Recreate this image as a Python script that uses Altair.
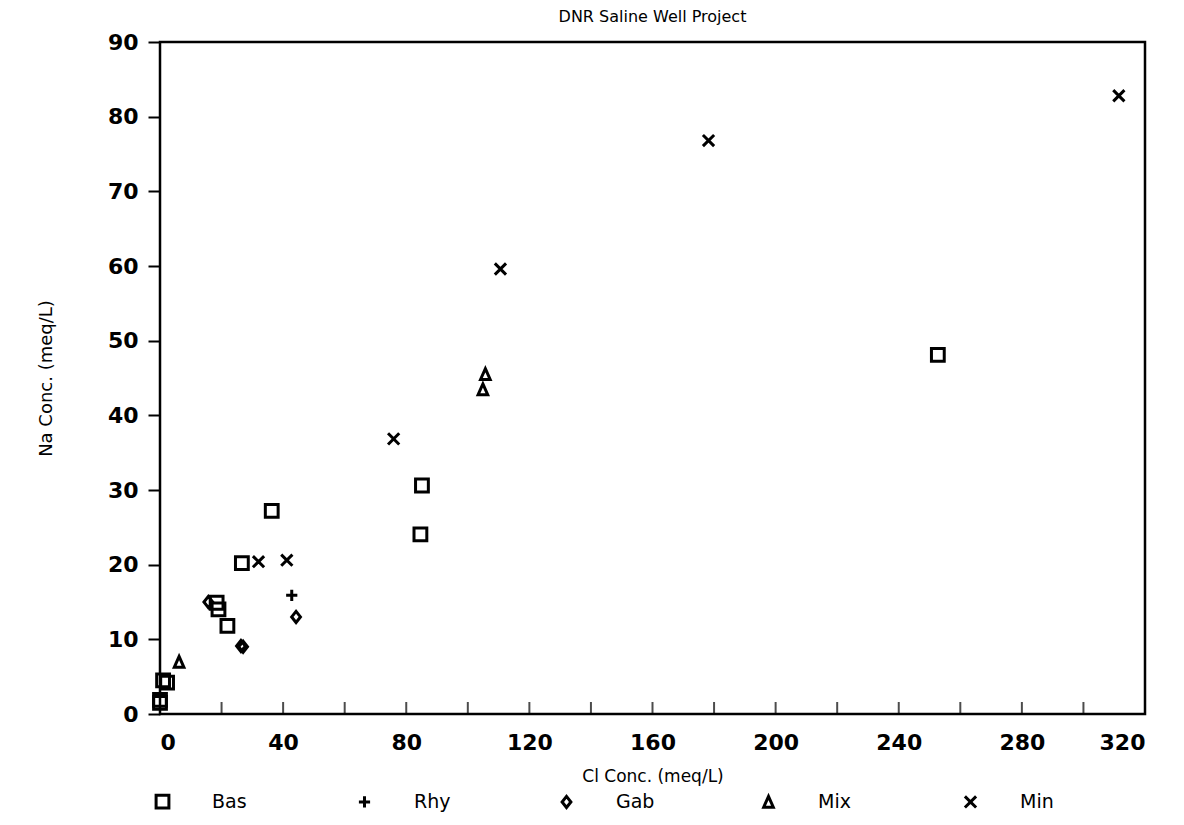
import altair as alt
import pandas as pd

# ---- data ----
types = ["Bas", "Rhy", "Gab", "Mix", "Min"]

bas_cl = [252.7, 85.1, 84.6, 36.3, 26.6, 18.4, 19.0, 21.9, 1.0, 2.3, 0.0, 0.0]
bas_na = [48.1, 30.6, 24.05, 27.2, 20.2, 14.9, 14.0, 11.8, 4.5, 4.2, 1.9, 1.5]

rhy_cl = [42.8]
rhy_na = [15.9]

gab_cl = [15.7, 44.2, 26.3, 27.0]
gab_na = [15.0, 13.0, 9.1, 9.0]

mix_cl = [105.7, 104.9, 6.2]
mix_na = [45.45, 43.4, 6.9]

min_cl = [311.5, 178.2, 110.6, 75.9, 32.0, 41.2]
min_na = [82.8, 76.8, 59.6, 36.85, 20.4, 20.6]

x_label_values = [0, 40, 80, 120, 160, 200, 240, 280, 320]
y_label_values = [0, 10, 20, 30, 40, 50, 60, 70, 80, 90]
x_tick_values = [20, 40, 60, 80, 100, 120, 140, 160, 180, 200, 220, 240, 260, 280, 300]

rows = []
for name, xs, ys in [("Bas", bas_cl, bas_na), ("Rhy", rhy_cl, rhy_na), ("Gab", gab_cl, gab_na),
                     ("Mix", mix_cl, mix_na), ("Min", min_cl, min_na)]:
    for a, b in zip(xs, ys):
        rows.append({"cl": a, "na": b, "type": name})
df = pd.DataFrame(rows)
ticks_df = pd.DataFrame({"v": x_tick_values})

shape_paths = [
    "M-0.8,-0.8L0.8,-0.8L0.8,0.8L-0.8,0.8Z",          # square
    "M-0.7,0L0.7,0M0,-0.7L0,0.7",                       # plus
    "M0,-0.7L0.55,0L0,0.7L-0.55,0Z",                    # diamond
    "M0,-0.75L0.6,0.6L-0.6,0.6Z",                       # triangle
    "M-0.7,-0.7L0.7,0.7M-0.7,0.7L0.7,-0.7",             # cross
]

FONT = "DejaVu Sans"

x_scale = alt.Scale(domain=[0, 320], nice=False, zero=False)
y_scale = alt.Scale(domain=[0, 90], nice=False, zero=False)

points = alt.Chart(df).mark_point(
    filled=False, strokeWidth=3, size=256, opacity=1, color="black"
).encode(
    x=alt.X("cl:Q", scale=x_scale,
            axis=alt.Axis(values=x_label_values, title="Cl Conc. (meq/L)",
                          ticks=False, tickSize=0, labelPadding=18, domain=False, grid=False,
                          labelFont=FONT, labelFontSize=22, labelFontWeight="bold",
                          labelColor="black", titleFont=FONT, titleFontSize=17,
                          titleFontWeight="normal", titleColor="black", titlePadding=15)),
    y=alt.Y("na:Q", scale=y_scale,
            axis=alt.Axis(values=y_label_values, title="Na Conc. (meq/L)",
                          ticks=True, tickSize=12, tickWidth=2, tickColor="black",
                          labelPadding=10, domain=False, grid=False,
                          labelFont=FONT, labelFontSize=22, labelFontWeight="bold",
                          labelColor="black", titleFont=FONT, titleFontSize=18,
                          titleFontWeight="normal", titleColor="black", titlePadding=52)),
    shape=alt.Shape("type:N", scale=alt.Scale(domain=types, range=shape_paths),
                    legend=alt.Legend(orient="none", legendX=-7, legendY=750,
                                      direction="horizontal", columns=5, title=None,
                                      labelFont=FONT, labelFontSize=19, labelColor="black",
                                      labelOffset=40, symbolSize=256, symbolStrokeWidth=3,
                                      symbolStrokeColor="black", symbolFillColor="white",
                                      columnPadding=101, gridAlign="all", padding=0)),
)

xticks = alt.Chart(ticks_df).mark_tick(color="black", thickness=2, size=12).encode(
    x=alt.X("v:Q", scale=x_scale),
    y=alt.value(666),
)

chart = alt.layer(points, xticks).properties(
    width=985,
    height=672,
    title=alt.TitleParams("DNR Saline Well Project", font=FONT, fontSize=16,
                          fontWeight="normal", color="black", anchor="middle",
                          frame="group", offset=6),
    autosize=alt.AutoSizeParams(type="none"),
    padding={"left": 152, "top": 34, "right": 30, "bottom": 103},
).configure(
    background="white",
    view=alt.ViewConfig(stroke="black", strokeWidth=2.5),
)

chart.save("out.html", embed_options={"renderer": "svg", "actions": False})
